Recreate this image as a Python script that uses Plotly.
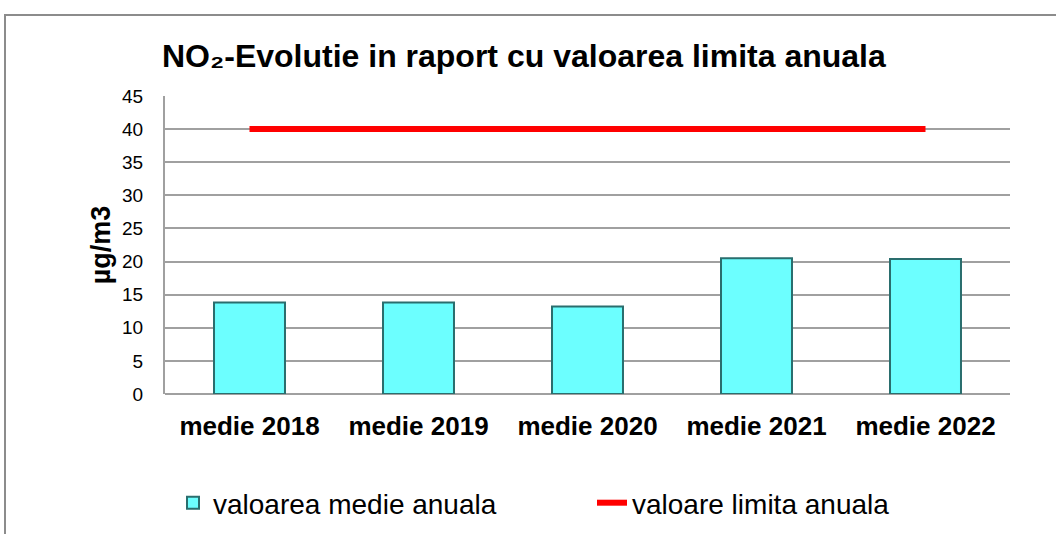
import plotly.graph_objects as go

categories = ["medie 2018", "medie 2019", "medie 2020", "medie 2021", "medie 2022"]
annual_mean = [13.8, 13.8, 13.2, 20.5, 20.4]
annual_limit = [40, 40, 40, 40, 40]
y_ticks = [0, 5, 10, 15, 20, 25, 30, 35, 40, 45]

W, H = 1056, 534
L, T = 165, 96
R = W - 1010
B = H - 394
PW, PH = W - L - R, H - T - B

def px_x(px):
    return (px - L) / PW

def px_y(py):
    return (H - B - py) / PH

FONT = "Liberation Sans, Arial, sans-serif"

fig = go.Figure()
fig.add_trace(go.Bar(
    x=categories, y=annual_mean, name="valoarea medie anuala",
    marker=dict(color="#6CFFFF", line=dict(color="#2A6E6E", width=2)),
    width=0.42,
))
fig.add_trace(go.Scatter(
    x=categories, y=annual_limit, name="valoare limita anuala",
    mode="lines", line=dict(color="#FF0000", width=6),
))

fig.update_layout(
    width=W, height=H,
    margin=dict(l=L, r=R, t=T, b=B, autoexpand=False),
    paper_bgcolor="white", plot_bgcolor="white",
    font=dict(family=FONT, color="black"),
    title=dict(
        text="NO₂-Evolutie in raport cu valoarea limita anuala",
        font=dict(size=32, color="black", weight="bold"),
        xref="container", x=162 / W, xanchor="left",
        yref="container", y=1 - 56 / H, yanchor="middle",
    ),
    xaxis=dict(
        tickfont=dict(size=26, color="black", weight="bold"),
        showline=False, showgrid=False, ticks="",
        ticklabelstandoff=14,
    ),
    yaxis=dict(
        range=[0, 45], tickvals=y_ticks,
        tickfont=dict(size=19, color="black"),
        showgrid=True, gridcolor="#A0A0A0", gridwidth=2,
        showline=True, linecolor="#A0A0A0", linewidth=2,
        zeroline=True, zerolinecolor="#A0A0A0", zerolinewidth=2,
        ticks="", ticklabelstandoff=16,
        title=dict(text="µg/m3", font=dict(size=27, color="black", weight="bold"), standoff=4),
    ),
    bargap=0.58,
    showlegend=True,
    legend=dict(
        orientation="h", x=px_x(173), xanchor="left",
        y=px_y(503), yanchor="middle",
        font=dict(size=28, color="black"),
        entrywidth=374, traceorder="normal",
        bgcolor="rgba(0,0,0,0)",
    ),
    shapes=[dict(
        type="rect", xref="paper", yref="paper",
        x0=px_x(5), x1=px_x(1080), y0=px_y(570), y1=px_y(15),
        line=dict(color="#8C8C8C", width=2), fillcolor="rgba(0,0,0,0)",
        layer="below",
    )],
)

fig.write_html(
    "out.html",
    config={"displayModeBar": False},
    post_script="document.body.style.margin='0';",
)
